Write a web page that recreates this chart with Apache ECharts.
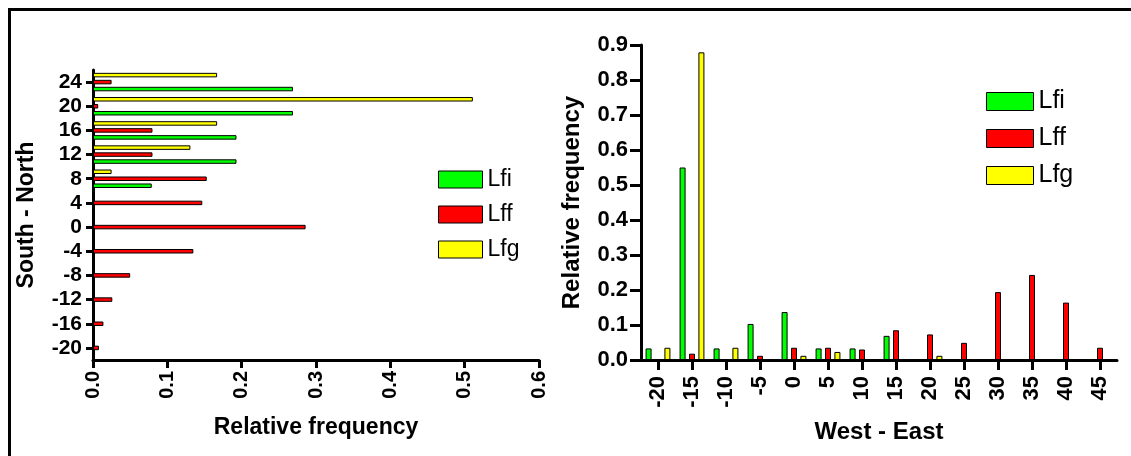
<!DOCTYPE html>
<html>
<head>
<meta charset="utf-8">
<script src="https://cdn.jsdelivr.net/npm/echarts@6/dist/echarts.min.js"></script>
<style>
  html, body { margin: 0; padding: 0; background: #fff; }
  #main { width: 1131px; height: 456px; }
</style>
</head>
<body>
<div id="main"></div>
<script>
// left panel: South - North (bottom to top)
var snCats = ['-20', '-16', '-12', '-8', '-4', '0', '4', '8', '12', '16', '20', '24'];
var snLfi = [null, null, null, null, null, null, null, 0.079, 0.193, 0.193, 0.269, 0.269];
var snLff = [0.008, 0.014, 0.026, 0.050, 0.135, 0.286, 0.147, 0.153, 0.080, 0.080, 0.007, 0.025];
var snLfg = [null, null, null, null, null, null, null, 0.025, 0.131, 0.167, 0.511, 0.167];

// right panel: West - East
var weCats = ['-20', '-15', '-10', '-5', '0', '5', '10', '15', '20', '25', '30', '35', '40', '45'];
var weLfi = [0.033, 0.550, 0.033, 0.103, 0.137, 0.033, 0.033, 0.069, null, null, null, null, null, null];
var weLff = [null, 0.018, null, 0.012, 0.035, 0.035, 0.030, 0.085, 0.073, 0.049, 0.194, 0.243, 0.164, 0.035];
var weLfg = [0.035, 0.879, 0.035, null, 0.012, 0.023, null, null, 0.012, null, null, null, null, null];

var names = ['Lfi', 'Lff', 'Lfg'];
var colors = {Lfi: '#00ff00', Lff: '#ff0000', Lfg: '#ffff00'};
var FONT = '"Liberation Sans", Arial, sans-serif';

var chart = echarts.init(document.getElementById('main'));

function axisStyle() {
    return {
        axisLine: {show: true, lineStyle: {color: '#000', width: 3}},
        axisTick: {show: true, length: 8, lineStyle: {color: '#000', width: 3}},
        splitLine: {show: false}
    };
}

function barSeries(name, data, xi, yi, w, gap) {
    return {
        name: name,
        type: 'bar',
        xAxisIndex: xi,
        yAxisIndex: yi,
        data: data,
        barWidth: w,
        barGap: gap,
        itemStyle: {color: colors[name], borderColor: '#000', borderWidth: 1}
    };
}

var option = {
    backgroundColor: '#fff',
    animation: false,
    textStyle: {fontFamily: FONT},
    graphic: [{
        type: 'rect',
        shape: {x: 9.5, y: 9.5, width: 1200, height: 600},
        style: {fill: 'none', stroke: '#000', lineWidth: 3}
    }],
    grid: [
        {left: 93, top: 70, width: 446, height: 290},
        {left: 641, top: 45, width: 476, height: 315}
    ],
    legend: [
        {
            data: names, orient: 'vertical', left: 433, top: 163, icon: 'rect',
            itemWidth: 44, itemHeight: 17, itemGap: 12,
            textStyle: {fontFamily: FONT, fontSize: 23, color: '#000'},
            itemStyle: {borderColor: '#000', borderWidth: 1}
        },
        {
            data: names, orient: 'vertical', left: 981, top: 84, icon: 'rect',
            itemWidth: 47, itemHeight: 18, itemGap: 12,
            textStyle: {fontFamily: FONT, fontSize: 25, color: '#000'},
            itemStyle: {borderColor: '#000', borderWidth: 1}
        }
    ],
    xAxis: [
        Object.assign(axisStyle(), {
            type: 'value', gridIndex: 0, min: 0, max: 0.6, interval: 0.1,
            name: 'Relative frequency', nameLocation: 'middle', nameGap: 56,
            nameTextStyle: {fontFamily: FONT, fontSize: 23, fontWeight: 'bold', color: '#000'},
            axisLabel: {rotate: 90, margin: 11, fontFamily: FONT, fontSize: 20, fontWeight: 'bold', color: '#000',
                formatter: function (v) { return v.toFixed(1); }}
        }),
        Object.assign(axisStyle(), {
            type: 'category', gridIndex: 1, data: weCats,
            name: 'West - East', nameLocation: 'middle', nameGap: 60,
            nameTextStyle: {fontFamily: FONT, fontSize: 24, fontWeight: 'bold', color: '#000'},
            axisTick: {show: true, alignWithLabel: true, length: 10, lineStyle: {color: '#000', width: 3}},
            axisLabel: {rotate: 90, interval: 0, margin: 16, fontFamily: FONT, fontSize: 22, fontWeight: 'bold', color: '#000'}
        })
    ],
    yAxis: [
        Object.assign(axisStyle(), {
            type: 'category', gridIndex: 0, data: snCats,
            name: 'South - North', nameLocation: 'middle', nameGap: 55,
            nameTextStyle: {fontFamily: FONT, fontSize: 23, fontWeight: 'bold', color: '#000'},
            axisTick: {show: true, alignWithLabel: true, length: 7, lineStyle: {color: '#000', width: 3}},
            axisLabel: {interval: 0, margin: 11, fontFamily: FONT, fontSize: 21, fontWeight: 'bold', color: '#000'}
        }),
        Object.assign(axisStyle(), {
            type: 'value', gridIndex: 1, min: 0, max: 0.9, interval: 0.1,
            name: 'Relative frequency', nameLocation: 'middle', nameGap: 57,
            nameTextStyle: {fontFamily: FONT, fontSize: 24, fontWeight: 'bold', color: '#000'},
            axisTick: {show: true, length: 11, lineStyle: {color: '#000', width: 3}},
            axisLabel: {margin: 13, fontFamily: FONT, fontSize: 22, fontWeight: 'bold', color: '#000',
                formatter: function (v) { return v.toFixed(1); }}
        })
    ],
    series: [
        // horizontal bars: first series sits on top of each group
        barSeries('Lfg', snLfg, 0, 0, 4.5, '55%'),
        barSeries('Lff', snLff, 0, 0, 4.5, '55%'),
        barSeries('Lfi', snLfi, 0, 0, 4.5, '55%'),
        barSeries('Lfi', weLfi, 1, 1, 6, '57%'),
        barSeries('Lff', weLff, 1, 1, 6, '57%'),
        barSeries('Lfg', weLfg, 1, 1, 6, '57%')
    ]
};

chart.setOption(option);
</script>
</body>
</html>
